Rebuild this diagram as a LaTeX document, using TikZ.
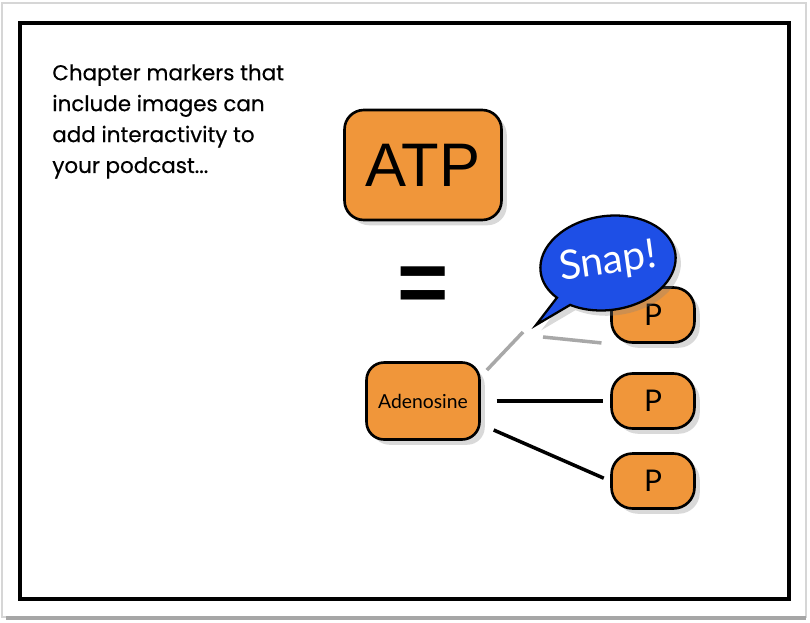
\documentclass[tikz,border=0pt]{standalone}
\usepackage{fontspec}
\setmainfont{Lato}
\newfontfamily\notefont[FakeBold=0.4]{Poppins}
\newfontfamily\atpfont{Liberation Sans}
\usetikzlibrary{shapes.callouts,shadows,positioning}
\definecolor{AtpOrange}{HTML}{F0963A}
\definecolor{SnapBlue}{HTML}{1E4FE6}
\definecolor{SnapGray}{HTML}{A8A8A8}
\definecolor{FrameGray}{HTML}{D6D6D6}

\begin{document}
\begin{tikzpicture}[x=0.02cm, y=-0.02cm,
  every node/.style={font=\small},
  part/.style={draw=black, fill=AtpOrange, line width=1.5pt, align=center,
               drop shadow={shadow xshift=3pt, shadow yshift=-3pt, opacity=0.3}},
  phos/.style={part, rounded corners=12pt, minimum width=1.66cm, minimum height=1.1cm,
               font=\fontsize{17}{17}\selectfont},
  bond/.style={draw=black, line width=2pt},
  snapline/.style={draw=SnapGray, line width=2pt},
  bubble/.style={ellipse callout, draw=black, fill=SnapBlue, line width=1.3pt,
                 inner sep=0pt, minimum width=2.72cm, minimum height=1.88cm,
                 drop shadow={shadow xshift=3pt, shadow yshift=-3pt, opacity=0.3}},
]
\useasboundingbox (0,0) rectangle (810,622);
% frame
\draw[FrameGray, line width=1.5pt] (2,3) rectangle (806,617);
\draw[gray!70, line width=2pt] (6,618) -- (806,618);
\draw[black, line width=2.5pt] (20,23) rectangle (789,599);

\node[anchor=north west, inner sep=0pt, align=left,
      font=\notefont\fontsize{12.2}{17.6}\selectfont] (note) at (52,64)
     {Chapter markers that\\include images can\\add interactivity to\\your podcast...};

\node[part, rounded corners=11pt, minimum width=3.14cm, minimum height=2.2cm,
      font=\atpfont\fontsize{35}{35}\selectfont] (atp) at (423,165) {ATP};
\node[font=\atpfont\bfseries\fontsize{50}{50}\selectfont] (eq) at (423,290) {=};
\node[part, rounded corners=10pt, minimum width=2.26cm, minimum height=1.54cm,
      font=\fontsize{11}{11}\selectfont] (ade) at (423,401) {Adenosine};

\node[phos] (p1) at (653,315) {P};
\node[phos] (p2) at (653,401) {P};
\node[phos] (p3) at (653,481) {P};

\draw[bond, shorten <=9pt, shorten >=4pt] (ade.east) -- (p2.west);
\draw[bond, shorten <=8pt, shorten >=4pt] (ade.-22) -- (p3.west);

% the broken bond
\coordinate (snapa) at (523,332);
\coordinate (snapb) at (543,337);
\draw[snapline, shorten <=5pt] (ade.23) -- (snapa);
\draw[snapline, shorten >=5pt] (snapb) -- (p1.south west);

\node[bubble, rotate=8, callout absolute pointer={(536,325)}] (snap) at (608,263) {};
\node[rotate=8, text=white, font=\fontsize{23}{23}\selectfont] (snaptext) at (snap.center) {Snap!};
\end{tikzpicture}
\end{document}
